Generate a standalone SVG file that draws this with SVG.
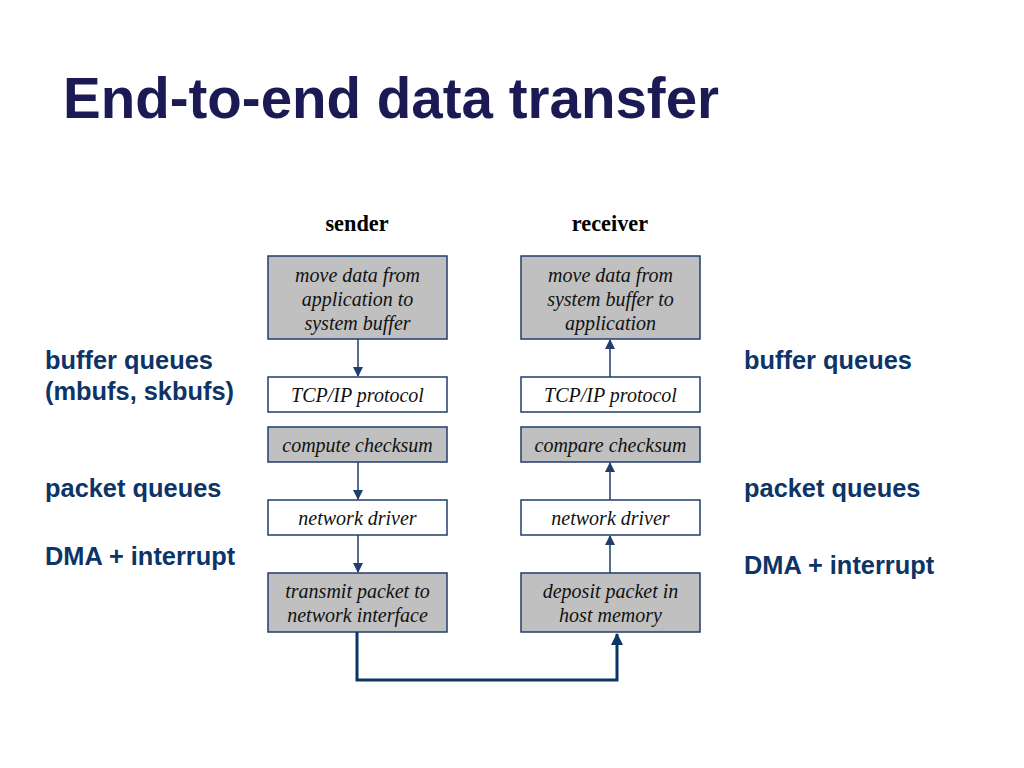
<svg xmlns="http://www.w3.org/2000/svg" width="1024" height="768" viewBox="0 0 1024 768">
<defs>
<style>
.title{font-family:"Liberation Sans",Arial,sans-serif;font-weight:bold;font-size:56.5px;fill:#1b1a55}
.lbl{font-family:"Liberation Sans",Arial,sans-serif;font-weight:bold;font-size:25.4px;fill:#0d3466}
.hdr{font-family:"Liberation Serif","Times New Roman",serif;font-weight:bold;font-size:22.3px;fill:#000}
.bt{font-family:"Liberation Serif","Times New Roman",serif;font-style:italic;font-size:20px;fill:#111;text-anchor:middle}
.g{fill:#c0c0c0;stroke:#1f3e6b;stroke-width:1.5}
.w{fill:#fff;stroke:#1f3e6b;stroke-width:1.5}
.c{stroke:#1f3e6b;stroke-width:1.5;fill:none}
.ct{stroke:#0d3466;stroke-width:3;fill:none}
</style>
<marker id="ah" markerWidth="10" markerHeight="10" refX="9" refY="5" orient="auto" markerUnits="userSpaceOnUse">
<path d="M0,0 L10,5 L0,10 z" fill="#1f3e6b"/>
</marker>
<marker id="ahb" markerWidth="12" markerHeight="12" refX="11" refY="6" orient="auto" markerUnits="userSpaceOnUse">
<path d="M0,0 L12,6 L0,12 z" fill="#0d3466"/>
</marker>
</defs>
<rect width="1024" height="768" fill="#fff"/>
<text class="title" x="63" y="118">End-to-end data transfer</text>
<text class="hdr" x="357" y="231" text-anchor="middle">sender</text>
<text class="hdr" x="610" y="231" text-anchor="middle">receiver</text>
<g id="labels">
<text class="lbl" x="45" y="369">buffer queues</text>
<text class="lbl" x="45" y="400">(mbufs, skbufs)</text>
<text class="lbl" x="45" y="497">packet queues</text>
<text class="lbl" x="45" y="565">DMA + interrupt</text>
<text class="lbl" x="744" y="369">buffer queues</text>
<text class="lbl" x="744" y="497">packet queues</text>
<text class="lbl" x="744" y="574">DMA + interrupt</text>
</g>
<g id="s1"><rect class="g" x="268" y="256" width="179" height="83"/><text class="bt" x="357.5" y="282">move data from</text><text class="bt" x="357.5" y="306">application to</text><text class="bt" x="357.5" y="330">system buffer</text></g>
<g id="s2"><rect class="w" x="268" y="377" width="179" height="35"/><text class="bt" x="357.5" y="402">TCP/IP protocol</text></g>
<g id="s3"><rect class="g" x="268" y="427" width="179" height="35"/><text class="bt" x="357.5" y="452">compute checksum</text></g>
<g id="s4"><rect class="w" x="268" y="500" width="179" height="35"/><text class="bt" x="357.5" y="525">network driver</text></g>
<g id="s5"><rect class="g" x="268" y="573" width="179" height="59"/><text class="bt" x="357.5" y="598">transmit packet to</text><text class="bt" x="357.5" y="622">network interface</text></g>
<g id="r1"><rect class="g" x="521" y="256" width="179" height="83"/><text class="bt" x="610.5" y="282">move data from</text><text class="bt" x="610.5" y="306">system buffer to</text><text class="bt" x="610.5" y="330">application</text></g>
<g id="r2"><rect class="w" x="521" y="377" width="179" height="35"/><text class="bt" x="610.5" y="402">TCP/IP protocol</text></g>
<g id="r3"><rect class="g" x="521" y="427" width="179" height="35"/><text class="bt" x="610.5" y="452">compare checksum</text></g>
<g id="r4"><rect class="w" x="521" y="500" width="179" height="35"/><text class="bt" x="610.5" y="525">network driver</text></g>
<g id="r5"><rect class="g" x="521" y="573" width="179" height="59"/><text class="bt" x="610.5" y="598">deposit packet in</text><text class="bt" x="610.5" y="622">host memory</text></g>
<g id="connectors">
<line class="c" x1="358" y1="339" x2="358" y2="376" marker-end="url(#ah)"/>
<line class="c" x1="358" y1="462" x2="358" y2="499" marker-end="url(#ah)"/>
<line class="c" x1="358" y1="535" x2="358" y2="572" marker-end="url(#ah)"/>
<line class="c" x1="610" y1="377" x2="610" y2="340" marker-end="url(#ah)"/>
<line class="c" x1="610" y1="500" x2="610" y2="463" marker-end="url(#ah)"/>
<line class="c" x1="610" y1="573" x2="610" y2="536" marker-end="url(#ah)"/>
<polyline class="ct" points="357,632 357,680 617,680 617,634" marker-end="url(#ahb)"/>
</g>
</svg>
